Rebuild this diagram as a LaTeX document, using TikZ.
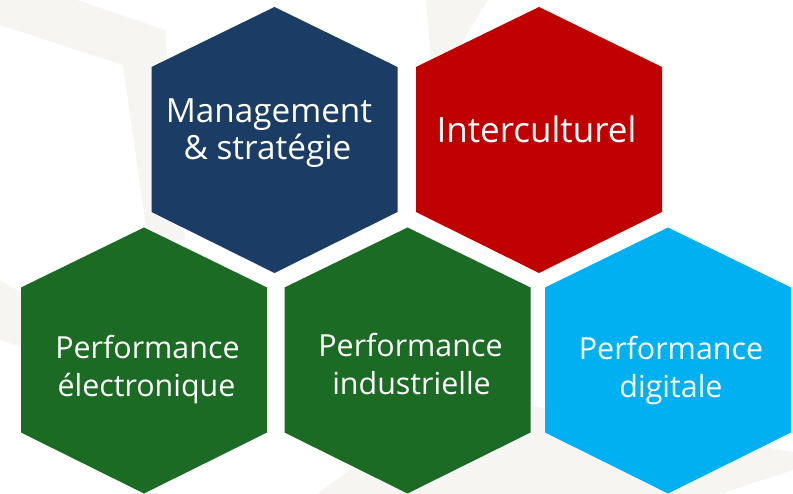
\documentclass[tikz,border=0pt]{standalone}
\usepackage{fontspec}
\setmainfont{Open Sans}
\definecolor{navyhex}{HTML}{1B3C65}
\definecolor{redhex}{HTML}{C00000}
\definecolor{greenhex}{HTML}{1B6B25}
\definecolor{bluehex}{HTML}{00B0F0}
\definecolor{bgband}{HTML}{F6F5F2}
\tikzset{
  hextext/.style={text=white, anchor=base, inner sep=0pt, font=\fontsize{30.4}{37}\selectfont},
  toptext/.style={hextext, font=\fontsize{33.3}{37}\selectfont},
  bigtext/.style={hextext, font=\fontsize{35}{40}\selectfont},
}
\newcommand\hexpath[2]{% center x, center y
  (#1,#2-133) -- ++(123,60) -- ++(0,145) -- ++(-123,61) -- ++(-123,-61) -- ++(0,-145) -- cycle}
\begin{document}
\begin{tikzpicture}[x=1pt,y=-1pt]
\useasboundingbox (0,0) rectangle (793,494);
\fill[white] (0,0) rectangle (793,494);
% faint background bands
\fill[bgband] (0,0) -- (77,0) -- (165,30) -- (185,240) -- (148,240) -- (123,65) -- (0,25) -- cycle;
\fill[bgband] (0,280) -- (30,298) -- (30,350) -- (0,340) -- cycle;
\fill[bgband] (426,0) -- (488,0) -- (445,70) -- (432,70) -- cycle;
\fill[bgband] (317,494) -- (420,420) -- (527,405) -- (793,452) -- (793,470) -- (720,494) -- cycle;
% hexagons
\fill[navyhex] \hexpath{274.5}{140};
\fill[redhex] \hexpath{539}{140};
\fill[greenhex] \hexpath{144}{360.5};
\fill[greenhex] \hexpath{407.5}{360.5};
\fill[bluehex] \hexpath{668}{360.5};
% texts
\node[toptext] (t1a) at (269,123) {Management};
\node[toptext] (t1b) at (267.5,160) {\& stratégie};
\node[bigtext] (t2) at (536.5,143) {Interculturel};
\node[hextext] (t3a) at (147.5,359) {Performance};
\node[hextext] (t3b) at (146.5,397) {électronique};
\node[hextext] (t4a) at (410.5,357) {Performance};
\node[hextext] (t4b) at (411.5,395) {industrielle};
\node[hextext] (t5a) at (671,360) {Performance};
\node[hextext] (t5b) at (671,398) {digitale};
\end{tikzpicture}
\end{document}
